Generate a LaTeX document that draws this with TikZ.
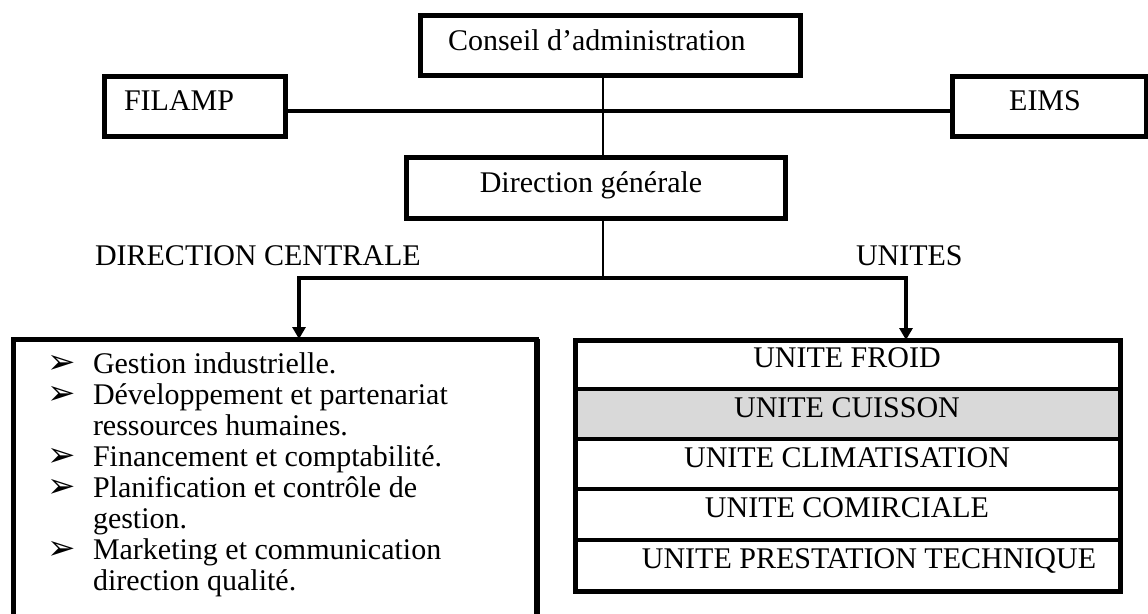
\documentclass[tikz,border=0pt]{standalone}
\usepackage{fontspec}
\setmainfont{Liberation Serif}
\newfontfamily\symfont{DejaVu Sans}
\usetikzlibrary{arrows.meta}
\definecolor{cellgray}{HTML}{D9D9D9}
\tikzset{
  frame/.style={draw=black, line width=5pt, inner sep=0pt, outer sep=0pt, fill=white},
  cell/.style={draw=black, line width=3.5pt, inner sep=0pt, outer sep=0pt,
               minimum width=545pt},
  label/.style={inner sep=0pt, outer sep=0pt, font=\fontsize{30}{31}\selectfont},
  conn/.style={line width=4pt, line join=miter},
  trunkline/.style={line width=1.5pt},
  tip/.style={-{Triangle[width=13pt,length=12pt]}}
}
% list marker: a large arrowhead that does not change the line height
\newcommand{\arrowbullet}{\smash{\symfont\fontsize{34}{34}\selectfont ➢}}
\begin{document}
\begin{tikzpicture}[x=1pt,y=-1pt]
\clip (0,0) rectangle (1148,613);
\fill[white] (0,0) rectangle (1148,613);

% top level boxes
\node[frame, minimum width=380pt, minimum height=60pt] (conseil) at (610,45) {};
\node[frame, minimum width=181pt, minimum height=60pt] (filamp) at (194.5,106) {};
\node[frame, minimum width=194pt, minimum height=60pt] (eims) at (1049,106) {};
\node[frame, minimum width=379pt, minimum height=61pt] (dg) at (595.5,187.5) {};

\node[label, anchor=base west] (tconseil) at (448,50) {Conseil d’administration};
\node[label, anchor=base west] (tfilamp) at (124,110) {FILAMP};
\node[label, anchor=base] (teims) at (1045,110) {EIMS};
\node[label, anchor=base] (tdg) at (591,192) {Direction générale};

% branch labels
\node[label, anchor=base west] (tcentrale) at (95,265) {DIRECTION CENTRALE};
\node[label, anchor=base west] (tunites) at (856,265) {UNITES};

% central direction box
\node[frame, minimum width=523pt, minimum height=320pt, anchor=north west] (central) at (13,339) {};
\draw[line width=3pt] ([xshift=2.5pt]central.north east) -- ([xshift=2.5pt]central.south east);

\node[label, anchor=base west] (tasks) at (47,373) {%
  \begin{tabular}[t]{@{}p{46pt}@{}l@{}}
  \arrowbullet & Gestion industrielle.\\
  \arrowbullet & Développement et partenariat\\
               & ressources humaines.\\
  \arrowbullet & Financement et comptabilité.\\
  \arrowbullet & Planification et contrôle de\\
               & gestion.\\
  \arrowbullet & Marketing et communication\\
               & direction qualité.
  \end{tabular}};

% units table
\node[cell, minimum height=49pt, anchor=north west] (u1) at (575,340) {};
\node[cell, minimum height=50pt, anchor=north west, fill=cellgray] (u2) at (575,389) {};
\node[cell, minimum height=50pt, anchor=north west] (u3) at (575,439) {};
\node[cell, minimum height=51pt, anchor=north west] (u4) at (575,489) {};
\node[cell, minimum height=51pt, anchor=north west] (u5) at (575,540) {};
\node[draw=black, line width=5pt, inner sep=0pt, outer sep=0pt,
      minimum width=545pt, minimum height=251pt, anchor=north west] (units) at (575,340) {};

\node[label, anchor=base] (tu1) at (847,367) {UNITE FROID};
\node[label, anchor=base] (tu2) at (847,417) {UNITE CUISSON};
\node[label, anchor=base] (tu3) at (847,467) {UNITE CLIMATISATION};
\node[label, anchor=base] (tu4) at (847,517) {UNITE COMIRCIALE};
\node[label, anchor=base] (tu5) at (869,568) {UNITE PRESTATION TECHNIQUE};

% connectors
\coordinate (trunk) at (603,278);
\coordinate (la) at (299,278);
\coordinate (ra) at (906,278);

\draw[conn] ([yshift=-5pt]filamp.east) -- ([yshift=-5pt]eims.west);
\draw[trunkline] (conseil.south -| trunk) -- (dg.north -| trunk);
\draw[trunkline] (dg.south -| trunk) -- (trunk);
\draw[conn, tip] (la) -- (central.north -| la);
\draw[conn, tip] (ra) -- (units.north -| ra);
\draw[conn] ([xshift=-2pt]la) -- ([xshift=2pt]ra);
\end{tikzpicture}
\end{document}
